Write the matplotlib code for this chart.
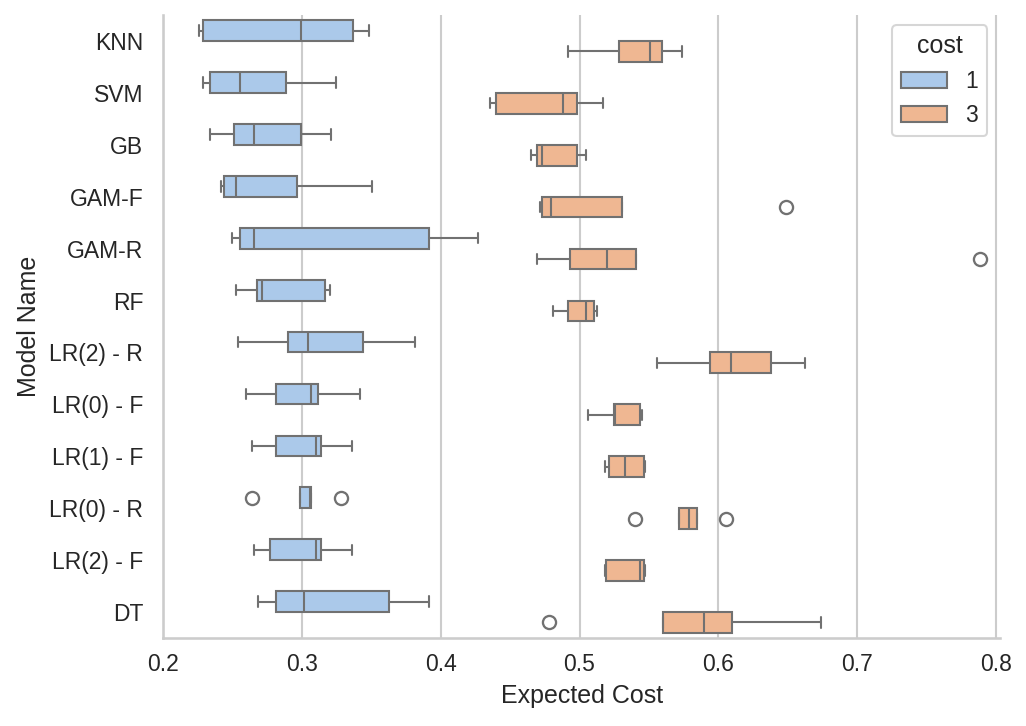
import matplotlib
matplotlib.use("Agg")
import matplotlib.pyplot as plt
import seaborn as sns
from matplotlib.patches import Patch

models = ["KNN", "SVM", "GB", "GAM-F", "GAM-R", "RF", "LR(2) - R", "LR(0) - F",
          "LR(1) - F", "LR(0) - R", "LR(2) - F", "DT"]
hue_levels = ["1", "3"]

# cost = 1
c1_whislo = [0.2257, 0.2288, 0.2338, 0.2420, 0.2496, 0.2525, 0.2540, 0.2597, 0.2638, 0.2990, 0.2655, 0.2683]
c1_q1     = [0.2285, 0.2338, 0.2511, 0.2436, 0.2554, 0.2676, 0.2899, 0.2811, 0.2811, 0.2990, 0.2767, 0.2811]
c1_med    = [0.2993, 0.2554, 0.2652, 0.2525, 0.2652, 0.2712, 0.3043, 0.3065, 0.3101, 0.3060, 0.3101, 0.3014]
c1_q3     = [0.3367, 0.2887, 0.2993, 0.2966, 0.3914, 0.3165, 0.3439, 0.3115, 0.3137, 0.3065, 0.3137, 0.3628]
c1_whishi = [0.3482, 0.3245, 0.3209, 0.3504, 0.4271, 0.3201, 0.3813, 0.3417, 0.3360, 0.3065, 0.3360, 0.3914]
c1_fliers = [[], [], [], [], [], [], [], [], [], [0.2643, 0.3283], [], []]

# cost = 3
c3_whislo = [0.4914, 0.4354, 0.4647, 0.4713, 0.4691, 0.4812, 0.5555, 0.5061, 0.5182, 0.5715, 0.5182, 0.5599]
c3_q1     = [0.5282, 0.4401, 0.4696, 0.4732, 0.4934, 0.4914, 0.5938, 0.5248, 0.5210, 0.5715, 0.5193, 0.5599]
c3_med    = [0.5505, 0.4879, 0.4732, 0.4793, 0.5201, 0.5044, 0.6090, 0.5252, 0.5328, 0.5787, 0.5436, 0.5894]
c3_q3     = [0.5593, 0.4981, 0.4981, 0.5306, 0.5406, 0.5105, 0.6377, 0.5436, 0.5464, 0.5847, 0.5464, 0.6099]
c3_whishi = [0.5737, 0.5168, 0.5044, 0.5306, 0.5406, 0.5124, 0.6623, 0.5450, 0.5469, 0.5847, 0.5469, 0.6739]
c3_fliers = [[], [], [], [0.6490], [0.7882], [], [], [], [], [0.5400, 0.6054], [], [0.4779]]

sns.set_theme(style="whitegrid")
plt.rcParams['font.family'] = ['Liberation Sans', 'DejaVu Sans']

pal = sns.color_palette("pastel")
colors = [sns.desaturate(pal[0], 0.75), sns.desaturate(pal[1], 0.75)]
line_c = "#717171"

fig = plt.figure(figsize=(6.84, 4.84), dpi=150)
ax = fig.add_axes([0.1589, 0.1212, 0.8160, 0.8581])

groups = [
    (c1_whislo, c1_q1, c1_med, c1_q3, c1_whishi, c1_fliers),
    (c3_whislo, c3_q1, c3_med, c3_q3, c3_whishi, c3_fliers),
]
offsets = [-0.2, 0.2]
for g, (wl, q1, md, q3, wh, fl) in enumerate(groups):
    stats = []
    for i in range(len(models)):
        stats.append(dict(whislo=wl[i], q1=q1[i], med=md[i], q3=q3[i],
                          whishi=wh[i], fliers=fl[i]))
    pos = [i + offsets[g] for i in range(len(models))]
    lw = 1.0
    ax.bxp(stats, positions=pos, widths=0.4, vert=False, patch_artist=True,
           capwidths=0.2,
           boxprops=dict(facecolor=colors[g], edgecolor=line_c, linewidth=lw),
           medianprops=dict(color=line_c, linewidth=lw),
           whiskerprops=dict(color=line_c, linewidth=lw),
           capprops=dict(color=line_c, linewidth=lw),
           flierprops=dict(marker='o', markerfacecolor='none', markeredgecolor=line_c,
                           markersize=6.3, markeredgewidth=1.1),
           manage_ticks=False, zorder=2)

ax.set_yticks(range(len(models)))
ax.set_yticklabels(models)
ax.set_ylim(len(models) - 0.5, -0.5)
ax.set_xlim(0.2, 0.803)
ax.set_xticks([0.2, 0.3, 0.4, 0.5, 0.6, 0.7, 0.8])
ax.set_xticklabels(["0.2", "0.3", "0.4", "0.5", "0.6", "0.7", "0.8"])
ax.grid(axis='y', visible=False)
ax.grid(axis='x', color='#cccccc', linewidth=1.0, zorder=0)
ax.set_axisbelow(True)
for s in ["top", "right"]:
    ax.spines[s].set_visible(False)
for s in ["left", "bottom"]:
    ax.spines[s].set_color('#cccccc')
    ax.spines[s].set_linewidth(1.25)
ax.tick_params(axis='y', labelsize=11, colors='#262626', length=0, pad=9.5)
ax.tick_params(axis='x', labelsize=11, colors='#262626', length=0, pad=7)
ax.set_xlabel("Expected Cost", fontsize=12, color='#262626', labelpad=4)
ax.set_ylabel("Model Name", fontsize=12, color='#262626', labelpad=4)

handles = [Patch(facecolor=colors[k], edgecolor=line_c, linewidth=1.0, label=hue_levels[k])
           for k in range(2)]
leg = ax.legend(handles=handles, title="cost", loc="upper right", fontsize=11,
                title_fontsize=12, bbox_to_anchor=(0.9845, 0.984), borderaxespad=0)

fig.savefig("out.png", dpi=150)
